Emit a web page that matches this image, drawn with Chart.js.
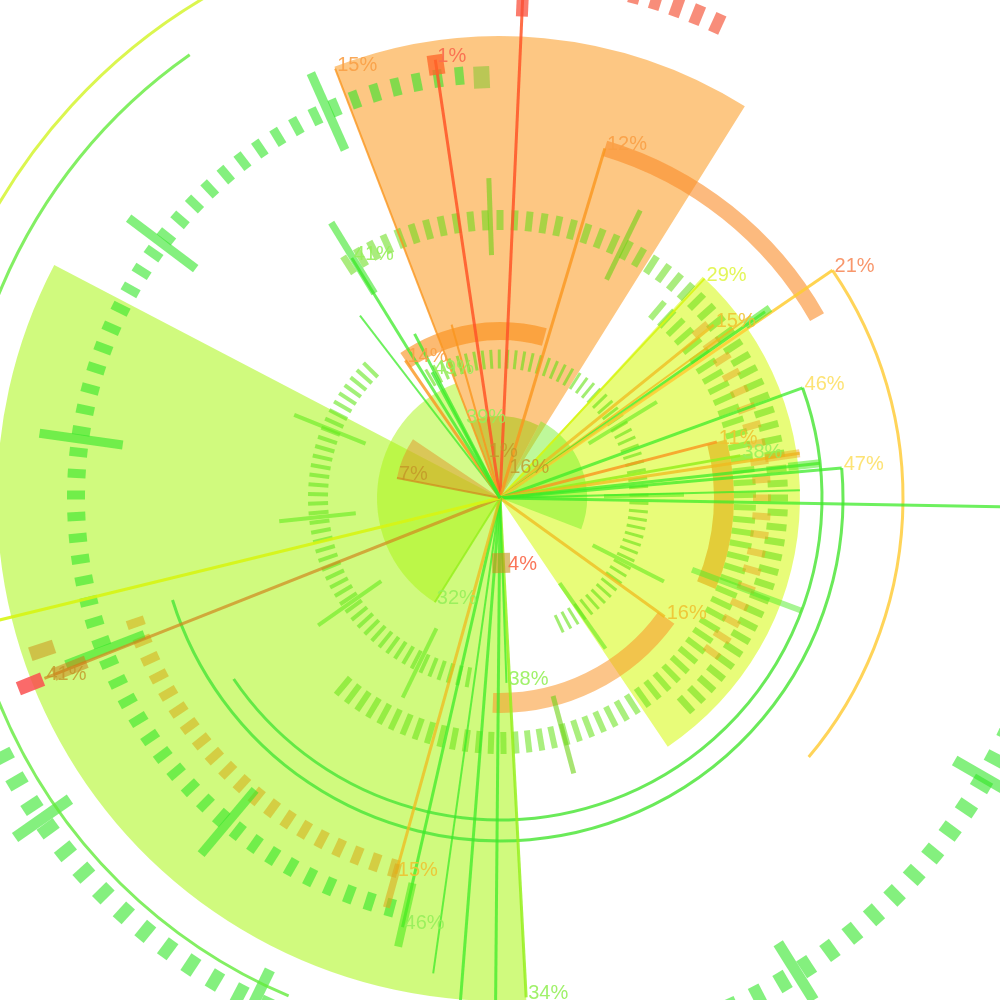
<!DOCTYPE html>
<html>
<head>
<meta charset="utf-8">
<script src="https://cdn.jsdelivr.net/npm/chart.js@4.4.1/dist/chart.umd.min.js"></script>
<style>
  html, body { margin: 0; padding: 0; background: #fff; }
</style>
</head>
<body>
<canvas id="hud" width="1000" height="1000"></canvas>
<script>
// angles are degrees clockwise from 12 o'clock, radii are r-scale values
const startAngle = -21;

// big wedges (polar area segments, gaps have radius 0)
const wedgeAngles = [53, 10.5, 103.5, 31, 120.6, 41.4];
const wedgeRadii = [462, 0, 300, 0, 503, 0];
const innerAngles = [49, 83, 101, 127];
const innerRadii = [82, 87, 0, 123];
const markAngles = [302, 23, 35];
const markRadii = [0, 105, 0];

// radial lines and their % labels
const rayAngles = [-21, -8.4, 2.6, 16.7, -15.6, 43, 51, 54, 54.9, 55.6,
  70, 75.5, 80, 81.5, 83.8, 85, 88.5, 91, 125.8, 177,
  178, 180.5, 184.5, 188, 192.8, 195.5, 212, 248.4, 256.3, 281,
  322.5, 325.5, 328.3, 331.6, 332.5, 335, -17, 15, 175];
const rayRadii = [460, 443, 520, 365, 180, 300, 275, 310, 324, 403,
  322, 224, 244, 303, 322, 343, 300, 520, 203, 500,
  185, 520, 520, 480, 440, 390, 123, 490, 520, 105,
  230, 167, 282, 143, 185, 85, 45, 28, 70];
const rayLabels = ['15%', '1%', '', '12%', '', '29%', '15%', '', '', '21%',
  '46%', '11%', '38%', '', '', '47%', '', '', '16%', '34%',
  '38%', '', '', '', '46%', '15%', '32%', '41%', '', '7%',
  '', '14%', '41%', '49%', '', '39%', '1%', '16%', '4%'];

// arcs: thin lines and thick bands
const arcRadius = [541, 581, 322, 343, 403];
const arcFrom = [203, 290, 70, 85, 55.6];
const arcTo = [325, 335, 235.8, 252.7, 130];
const bandRadius = [365, 167, 224, 205];
const bandFrom = [16.7, 325.5, 75.5, 125.8];
const bandTo = [60.3, 375.4, 112.9, 182];

// dashed tick rings
const ringRadius = [424, 385, 560, 522, 278, 245, 262, 139, 182];
const ringFrom = [195, 196, 112, 15, 327, 40, 50, -30, 190];
const ringTo = [357, 252, 243, 25.5, 500, 220, 128, 155, 316];
const ringStep = [2.9, 2.9, 2.9, 2.4, 3, 2.9, 4, 3.3, 2.9];

// long ticks
const tickAngles = [336, 307, 278, 249, 220, 120, 148, 206, 235, -2, 26, 165,
  206, 235, 264, 292, 58.5, 89, 117, 145];
const tickInner = [381, 381, 381, 381, 381, 525, 525, 525, 525, 243, 243, 205,
  145, 145, 145, 145, 104, 104, 104, 104];
const tickOuter = [465, 465, 465, 465, 465, 592, 592, 592, 592, 320, 320, 285,
  222, 222, 222, 222, 184, 184, 184, 184];

// short blocks
const blockAngles = [-8.4, 2.6, 179, 248.4, 248.4, 251.6, 195.5, 192.8, 54.9, 83.8, 81.5, 328.5, 110.5, -2.5];
const blockInner = [428, 482, 55, 492, 445, 470, 380, 395, 300, 290, 268, 240, 205, 410];
const blockOuter = [448, 505, 75, 518, 480, 495, 425, 460, 330, 322, 303, 323, 322, 432];

// ---- styles ----
const wedgeColors = ['rgba(252,150,20,0.53)', 'rgba(0,0,0,0)', 'rgba(215,250,20,0.57)', 'rgba(0,0,0,0)', 'rgba(170,245,20,0.55)', 'rgba(0,0,0,0)'];
const innerColors = ['rgba(165,200,20,0.55)', 'rgba(110,240,30,0.45)', 'rgba(0,0,0,0)', 'rgba(170,245,20,0.5)'];
const markColors = ['rgba(0,0,0,0)', 'rgba(225,150,40,0.5)', 'rgba(0,0,0,0)'];

const palette = {
  or: 'rgba(250,150,30,0.8)', rd: 'rgba(255,85,40,0.85)', gd: 'rgba(240,185,30,0.75)',
  yl: 'rgba(215,245,20,0.9)', gr: 'rgba(60,235,40,0.75)', lg: 'rgba(150,240,30,0.85)',
  br: 'rgba(210,135,30,0.7)', ye: 'rgba(255,205,50,0.85)', no: 'rgba(0,0,0,0)'
};
const labelPalette = {
  or: 'rgba(250,160,70,0.9)', rd: 'rgba(250,110,80,0.95)', gd: 'rgba(238,195,50,0.9)',
  yl: 'rgba(225,245,80,0.95)', gr: 'rgba(150,240,90,0.9)', br: 'rgba(195,150,40,0.8)',
  ye: 'rgba(253,225,110,0.95)', sa: 'rgba(248,145,100,0.95)'
};
const rayKinds = ['or', 'rd', 'rd', 'or', 'or', 'yl', 'gd', 'gd', 'gr', 'ye',
  'gr', 'or', 'lg', 'gd', 'gr', 'gr', 'gr', 'gr', 'gd', 'lg',
  'gr', 'gr', 'gr', 'gr', 'gr', 'gd', 'lg', 'br', 'yl', 'br',
  'gr', 'or', 'gr', 'gr', 'gr', 'no', 'no', 'no', 'no'];
const rayWidths = [2, 3, 3, 3, 2, 2, 3, 2, 3, 3,
  3, 3, 3, 3, 3, 3, 2, 3, 3, 3,
  2, 3, 3, 2, 3, 3, 2, 3, 3, 2,
  2, 3, 3, 3, 3, 0, 0, 0, 0];
const labelKinds = ['or', 'rd', '', 'or', '', 'yl', 'gd', '', '', 'sa',
  'ye', 'gd', 'gr', '', '', 'ye', '', '', 'gd', 'gr',
  'gr', '', '', '', 'gr', 'gd', 'gr', 'br', '', 'br',
  '', 'or', 'gr', 'gr', '', 'gr', 'br', 'br', 'rd'];

const arcColors = ['rgba(100,235,60,0.8)', 'rgba(215,245,60,0.9)', 'rgba(80,230,60,0.85)', 'rgba(80,230,60,0.85)', 'rgba(255,205,60,0.85)'];
const bandColors = ['rgba(250,140,40,0.6)', 'rgba(250,140,20,0.6)', 'rgba(225,185,30,0.7)', 'rgba(250,150,40,0.55)'];
const bandWidths = [16, 18, 20, 20];

const ringLen = [18, 18, 20, 20, 20, 22, 18, 19, 20];
const ringWidth = [9, 9, 12, 11, 7, 6, 7, 3, 4];
const ringColor = ['rgba(50,230,40,0.6)', 'rgba(215,170,20,0.55)', 'rgba(50,230,40,0.6)', 'rgba(245,80,50,0.65)',
  'rgba(100,220,20,0.55)', 'rgba(100,225,20,0.55)', 'rgba(230,165,30,0.5)', 'rgba(100,225,20,0.6)', 'rgba(100,230,30,0.6)'];

const tickWidths = [9, 9, 9, 9, 9, 11, 11, 11, 11, 5, 5, 5, 4, 4, 4, 4, 4, 4, 4, 4];
const blockWidths = [16, 12, 18, 14, 13, 14, 7, 8, 8, 8, 8, 7, 6, 16];
const blockColors = ['rgba(255,100,40,0.75)', 'rgba(250,80,60,0.75)', 'rgba(200,150,30,0.6)', 'rgba(250,80,80,0.85)',
  'rgba(205,120,20,0.5)', 'rgba(205,140,20,0.5)', 'rgba(220,170,30,0.6)', 'rgba(80,235,30,0.6)',
  'rgba(80,235,40,0.6)', 'rgba(80,235,40,0.55)', 'rgba(235,170,30,0.5)', 'rgba(60,230,40,0.6)',
  'rgba(80,235,40,0.5)', 'rgba(120,200,40,0.5)'];

function rad(a) {
  return (a - 90) * Math.PI / 180;
}

const hudPlugin = {
  id: 'hud',
  afterDatasetsDraw(chart) {
    const ctx = chart.ctx;
    const s = chart.scales.r;
    const cx = s.xCenter, cy = s.yCenter;
    const at = (a, v) => {
      const r = s.getDistanceFromCenterForValue(v);
      return [cx + r * Math.cos(rad(a)), cy + r * Math.sin(rad(a))];
    };
    const seg = (a, v1, v2, w, c) => {
      const p1 = at(a, v1), p2 = at(a, v2);
      ctx.beginPath();
      ctx.moveTo(p1[0], p1[1]);
      ctx.lineTo(p2[0], p2[1]);
      ctx.lineWidth = w;
      ctx.strokeStyle = c;
      ctx.stroke();
    };
    ctx.save();
    ctx.lineCap = 'butt';

    // thick bands
    for (let i = 0; i < bandRadius.length; i++) {
      ctx.beginPath();
      ctx.arc(cx, cy, s.getDistanceFromCenterForValue(bandRadius[i]), rad(bandFrom[i]), rad(bandTo[i]));
      ctx.lineWidth = bandWidths[i];
      ctx.strokeStyle = bandColors[i];
      ctx.stroke();
    }

    // dashed rings
    for (let i = 0; i < ringRadius.length; i++) {
      for (let a = ringFrom[i]; a <= ringTo[i] + 0.01; a += ringStep[i]) {
        seg(a, ringRadius[i] - ringLen[i] / 2, ringRadius[i] + ringLen[i] / 2, ringWidth[i], ringColor[i]);
      }
    }

    // long ticks
    for (let i = 0; i < tickAngles.length; i++) {
      const c = i < 9 ? 'rgba(50,230,40,0.6)' : (i < 12 ? 'rgba(110,210,20,0.6)' : 'rgba(100,235,30,0.6)');
      seg(tickAngles[i], tickInner[i], tickOuter[i], tickWidths[i], c);
    }

    // thin arcs
    for (let i = 0; i < arcRadius.length; i++) {
      ctx.beginPath();
      ctx.arc(cx, cy, s.getDistanceFromCenterForValue(arcRadius[i]), rad(arcFrom[i]), rad(arcTo[i]));
      ctx.lineWidth = 3;
      ctx.strokeStyle = arcColors[i];
      ctx.stroke();
    }

    // rays
    for (let i = 0; i < rayAngles.length; i++) {
      if (rayWidths[i] > 0) seg(rayAngles[i], 0, rayRadii[i], rayWidths[i], palette[rayKinds[i]]);
    }

    // blocks
    for (let i = 0; i < blockAngles.length; i++) {
      seg(blockAngles[i], blockInner[i], blockOuter[i], blockWidths[i], blockColors[i]);
    }

    // labels
    ctx.font = '20px "Liberation Sans", Arial, sans-serif';
    ctx.textAlign = 'left';
    ctx.textBaseline = 'alphabetic';
    for (let i = 0; i < rayAngles.length; i++) {
      if (!rayLabels[i]) continue;
      const p = at(rayAngles[i], rayRadii[i]);
      ctx.fillStyle = labelPalette[labelKinds[i]];
      ctx.fillText(rayLabels[i], p[0] + 2, p[1] + 2);
    }
    ctx.restore();
  }
};

new Chart(document.getElementById('hud'), {
  type: 'polarArea',
  data: {
    labels: wedgeAngles.map((a, i) => 'S' + (i + 1)),
    datasets: [
      { data: markRadii, angle: (c) => markAngles[c.dataIndex], backgroundColor: markColors, borderWidth: 0 },
      { data: innerRadii, angle: (c) => innerAngles[c.dataIndex], backgroundColor: innerColors, borderWidth: 0 },
      { data: wedgeRadii, angle: (c) => wedgeAngles[c.dataIndex], backgroundColor: wedgeColors, borderWidth: 0 }
    ]
  },
  options: {
    responsive: false,
    animation: false,
    layout: { padding: { bottom: 4 } },
    plugins: { legend: { display: false }, tooltip: { enabled: false } },
    scales: {
      r: {
        min: 0,
        max: 498,
        startAngle: startAngle,
        ticks: { display: false },
        grid: { display: false },
        angleLines: { display: false },
        pointLabels: { display: false }
      }
    }
  },
  plugins: [hudPlugin]
});
</script>
</body>
</html>
